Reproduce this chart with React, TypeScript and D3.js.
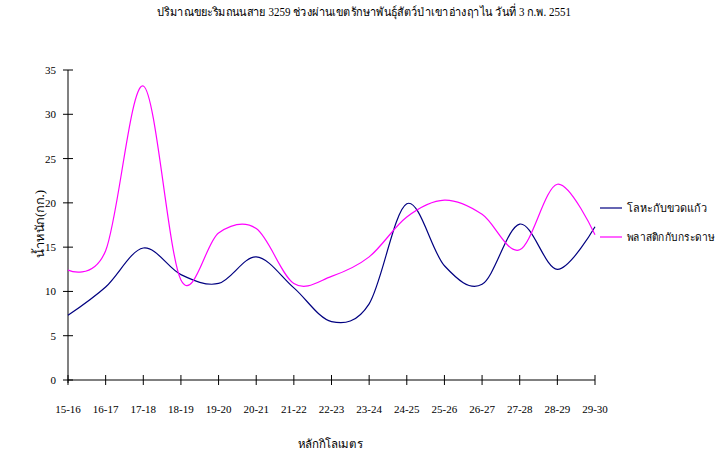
import React from "react";
import * as d3 from "d3";

const categories = ["15-16","16-17","17-18","18-19","19-20","20-21","21-22","22-23","23-24","24-25","25-26","26-27","27-28","28-29","29-30"];
const metalGlass = [7.3, 10.5, 14.9, 11.9, 10.9, 13.9, 10.4, 6.6, 8.6, 19.9, 12.9, 10.8, 17.6, 12.5, 17.3];
const plasticPaper = [12.4, 14.6, 33.2, 11.3, 16.6, 17.1, 10.9, 11.7, 13.9, 18.4, 20.3, 18.7, 14.7, 22.1, 16.4];
const yTicks = [0, 5, 10, 15, 20, 25, 30, 35];
const seriesNames = ["โลหะกับขวดแก้ว", "พลาสติกกับกระดาษ"];
const seriesColors = ["#000080", "#FF00FF"];
const title = "ปริมาณขยะริมถนนสาย 3259 ช่วงผ่านเขตรักษาพันธุ์สัตว์ป่าเขาอ่างฤาไน วันที่ 3 ก.พ. 2551";

const font = "'Liberation Serif', 'Times New Roman', serif";

export default function App() {
  const W = 723, H = 456;
  const x0 = 68, x1 = 595, yTop = 70, yBot = 380;
  const x = d3.scalePoint<string>().domain(categories).range([x0, x1]);
  const y = d3.scaleLinear().domain([0, 35]).range([yBot, yTop]);
  const line = d3.line<number>()
    .x((_, i) => x(categories[i]) as number)
    .y((d) => y(d))
    .curve(d3.curveCardinal.tension(0));
  const series = [metalGlass, plasticPaper];
  const legendLens = [80, 87];
  return (
    <svg width={W} height={H} style={{ position: "absolute", left: 0, top: 0 }}>
      <rect width={W} height={H} fill="#fff" />
      <text x={364} y={16} textAnchor="middle" fontSize={12} style={{ fontFamily: font }} textLength={414} lengthAdjust="spacingAndGlyphs">{title}</text>
      <line x1={x0} x2={x0} y1={yTop} y2={yBot + 3} stroke="#808080" strokeWidth={2} />
      {yTicks.map((t) => (
        <g key={t}>
          <line x1={x0 - 5} x2={x0 + 5} y1={y(t)} y2={y(t)} stroke="#000" />
          <text x={x0 - 12} y={y(t) + 4} textAnchor="end" fontSize={11} style={{ fontFamily: font }}>{t}</text>
        </g>
      ))}
      <line x1={x0} x2={x1} y1={yBot} y2={yBot} stroke="#000" />
      {categories.map((c) => (
        <g key={c}>
          <line x1={x(c)} x2={x(c)} y1={yBot - 5} y2={yBot + 5} stroke="#000" />
          <text x={x(c)} y={413} textAnchor="middle" fontSize={11} style={{ fontFamily: font }}>{c}</text>
        </g>
      ))}
      {series.map((s, i) => (
        <path key={i} d={line(s) || ""} fill="none" stroke={seriesColors[i]} strokeWidth={1.2} />
      ))}
      {seriesNames.map((n, i) => (
        <g key={n}>
          <line x1={600} x2={622} y1={208 + i * 29} y2={208 + i * 29} stroke={seriesColors[i]} strokeWidth={1.2} />
          <text x={627} y={212 + i * 29} fontSize={11} style={{ fontFamily: font }} textLength={legendLens[i]} lengthAdjust="spacingAndGlyphs">{n}</text>
        </g>
      ))}
      <text transform="translate(44,224) rotate(-90)" textAnchor="middle" fontSize={12} style={{ fontFamily: font }} textLength={68} lengthAdjust="spacingAndGlyphs">น้ำหนัก(กก.)</text>
      <text x={330} y={448} textAnchor="middle" fontSize={12} style={{ fontFamily: font }} textLength={65} lengthAdjust="spacingAndGlyphs">หลักกิโลเมตร</text>
    </svg>
  );
}
